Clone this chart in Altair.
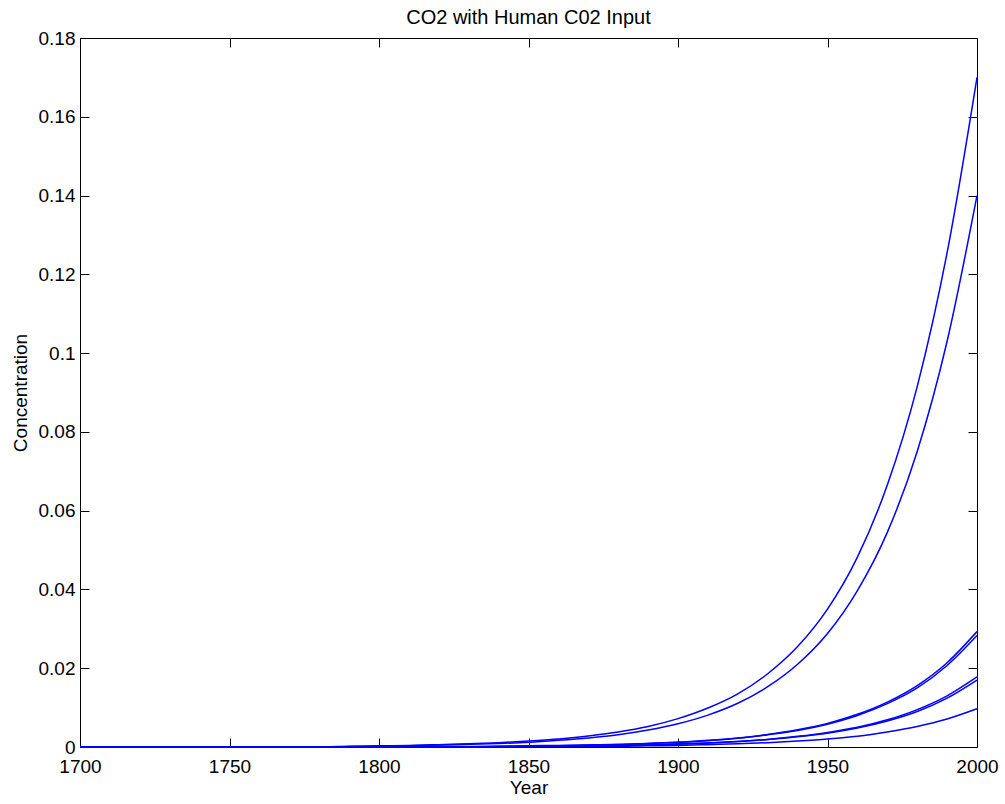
import altair as alt
import pandas as pd

# ---- data ----
years = [1700, 1780, 1790, 1800, 1810, 1820, 1830, 1840, 1850, 1860, 1870, 1880,
         1890, 1900, 1910, 1920, 1930, 1940, 1950, 1960, 1970, 1980, 1990, 2000]

run_a = [0, 0, 0.0002, 0.0003, 0.0004, 0.0006, 0.0008, 0.0011, 0.0015, 0.0020, 0.0028, 0.0038,
         0.0052, 0.0072, 0.0099, 0.0135, 0.0186, 0.0255, 0.0350, 0.0482, 0.0665, 0.0915, 0.1255, 0.1700]
run_b = [0, 0, 0.0001, 0.0002, 0.0003, 0.0005, 0.0007, 0.0009, 0.0012, 0.0017, 0.0023, 0.0031,
         0.0043, 0.0059, 0.0081, 0.0111, 0.0153, 0.0210, 0.0288, 0.0397, 0.0545, 0.0750, 0.1030, 0.1400]
run_c1 = [0, 0, 0, 0, 0, 0.0001, 0.0001, 0.0002, 0.0003, 0.0004, 0.0005, 0.0007,
          0.0009, 0.0012, 0.0017, 0.0023, 0.0032, 0.0044, 0.0060, 0.0083, 0.0114, 0.0156, 0.0214, 0.0293]
run_c2 = [0, 0, 0, 0, 0, 0, 0, 0.0001, 0.0002, 0.0003, 0.0005, 0.0006,
          0.0009, 0.0012, 0.0016, 0.0022, 0.0031, 0.0042, 0.0058, 0.0080, 0.0110, 0.0150, 0.0207, 0.0283]
run_d1 = [0, 0, 0, 0, 0, 0, 0, 0.0001, 0.0002, 0.0002, 0.0003, 0.0004,
          0.0005, 0.0008, 0.0010, 0.0014, 0.0019, 0.0027, 0.0037, 0.0050, 0.0069, 0.0095, 0.0130, 0.0178]
run_d2 = [0, 0, 0, 0, 0, 0, 0, 0, 0.0001, 0.0002, 0.0003, 0.0004,
          0.0005, 0.0007, 0.0010, 0.0014, 0.0019, 0.0026, 0.0035, 0.0048, 0.0066, 0.0090, 0.0124, 0.0170]
run_e = [0, 0, 0, 0, 0, 0, 0, 0, 0.0001, 0.0001, 0.0002, 0.0002,
         0.0003, 0.0004, 0.0006, 0.0008, 0.0011, 0.0015, 0.0020, 0.0027, 0.0038, 0.0052, 0.0071, 0.0097]

x_ticks = [1700, 1750, 1800, 1850, 1900, 1950, 2000]
y_ticks = [0, 0.02, 0.04, 0.06, 0.08, 0.1, 0.12, 0.14, 0.16, 0.18]

title_text = "CO2 with Human C02 Input"
x_title = "Year"
y_title = "Concentration"

rows = []
for name, vals in [("A", run_a), ("B", run_b), ("C1", run_c1), ("C2", run_c2),
                   ("D1", run_d1), ("D2", run_d2), ("E", run_e)]:
    for yr, v in zip(years, vals):
        rows.append({"year": yr, "value": v, "run": name})
df = pd.DataFrame(rows)

W, H = 897, 709
FONT = "Liberation Sans"
BLUE = "#0000ff"

x_scale = alt.Scale(domain=[1700, 2000], nice=False, zero=False)
y_scale = alt.Scale(domain=[0, 0.18], nice=False)

base = alt.Chart(df)

lines = base.mark_line(color=BLUE, strokeWidth=1.5, interpolate="monotone").encode(
    x=alt.X("year:Q", scale=x_scale,
            axis=alt.Axis(values=x_ticks, format="d", title=x_title, ticks=False, tickSize=0,
                          labelPadding=10, labelFlush=False, domain=False, grid=False,
                          titlePadding=2)),
    y=alt.Y("value:Q", scale=y_scale,
            axis=alt.Axis(values=y_ticks, format="~g", title=y_title, ticks=False, tickSize=0,
                          labelPadding=5, labelFlush=False, domain=False, grid=False,
                          titlePadding=8)),
    detail="run:N",
)

# inward ticks on left and bottom edges
ticks1 = base.mark_line(strokeOpacity=0).encode(
    x=alt.X("year:Q", scale=x_scale,
            axis=alt.Axis(values=x_ticks, orient="top", offset=-H, labels=False, title="",
                          domain=False, grid=False, ticks=True, tickSize=9)),
    y=alt.Y("value:Q", scale=y_scale,
            axis=alt.Axis(values=y_ticks, orient="right", offset=-W, labels=False, title="",
                          domain=False, grid=False, ticks=True, tickSize=9)),
    detail="run:N",
)

# inward ticks on top and right edges
ticks2 = base.mark_line(strokeOpacity=0).encode(
    x=alt.X("year:Q", scale=x_scale,
            axis=alt.Axis(values=x_ticks, orient="bottom", offset=-H, labels=False, title="",
                          domain=False, grid=False, ticks=True, tickSize=9)),
    y=alt.Y("value:Q", scale=y_scale,
            axis=alt.Axis(values=y_ticks, orient="left", offset=-W, labels=False, title="",
                          domain=False, grid=False, ticks=True, tickSize=9)),
    detail="run:N",
)

chart = alt.layer(lines, ticks1, ticks2).resolve_axis(
    x="independent", y="independent"
).properties(
    width=W,
    height=H,
    title=alt.TitleParams(title_text, font=FONT, fontSize=20, fontWeight="normal",
                          color="black", anchor="middle", offset=1),
    autosize=alt.AutoSizeParams(type="none"),
    padding={"left": 80, "top": 38, "right": 28, "bottom": 57},
    background="white",
).configure_view(
    stroke="black", strokeWidth=1
).configure_axis(
    labelFont=FONT, labelFontSize=19, labelColor="black",
    titleFont=FONT, titleFontSize=19, titleFontWeight="normal", titleColor="black",
    tickColor="black", tickWidth=1,
)

chart.save("out.html", embed_options={"renderer": "svg", "actions": False})
